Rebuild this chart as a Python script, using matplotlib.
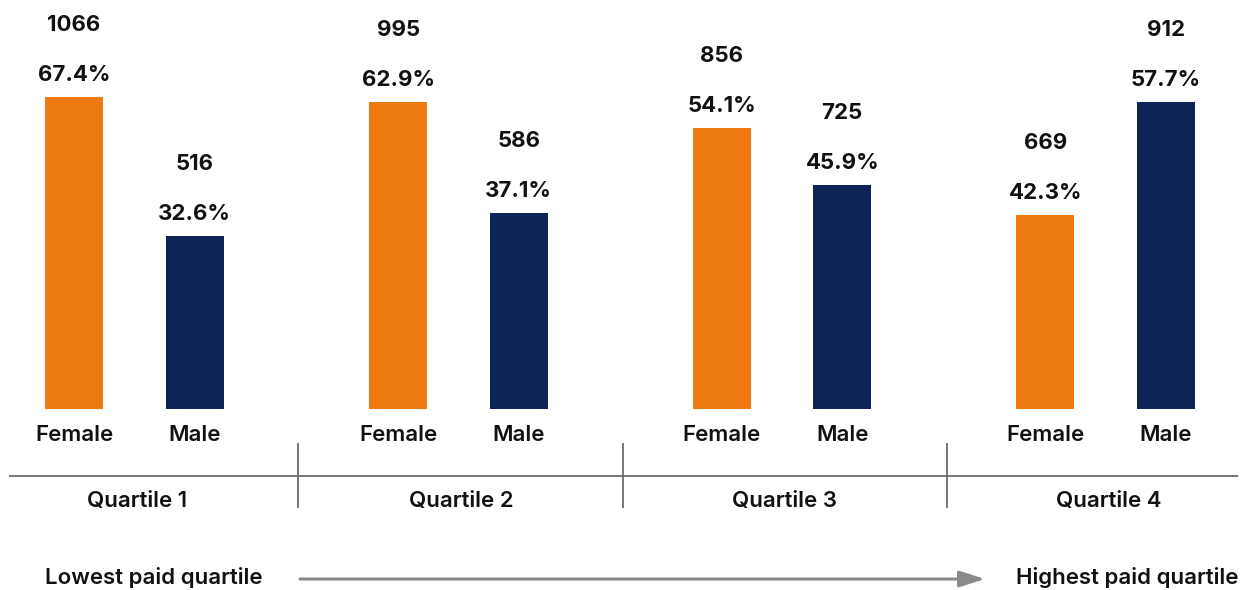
import matplotlib
matplotlib.use("Agg")
import matplotlib.pyplot as plt
from matplotlib.patches import FancyArrowPatch

plt.rcParams['font.family'] = ['Inter', 'DejaVu Sans']

# ---- data ----
quartiles = ["Quartile 1", "Quartile 2", "Quartile 3", "Quartile 4"]
genders = ["Female", "Male"]
female_pct = [67.4, 62.9, 54.1, 42.3]
male_pct = [32.6, 37.1, 45.9, 57.7]
female_cnt = [1066, 995, 856, 669]
male_cnt = [516, 586, 725, 912]
# each quartile panel in the reference has its own value range
panel_ylims = [(-10.7, 67.4), (-8.46, 64.06), (13.68, 58.57), (15.86, 58.38)]

ORANGE = "#EE7A13"
NAVY = "#0E2356"
TXT = "#111111"

W, H = 1254, 590
fig = plt.figure(figsize=(W / 100, H / 100), dpi=100)

# overlay axes in pixel coordinates for decorations
ov = fig.add_axes([0, 0, 1, 1])
ov.set_xlim(0, W)
ov.set_ylim(H, 0)
ov.axis("off")

group_centers = [134.25, 458.5, 782, 1105.5]
bar_gap_px = 120.5
panel_w = 324
base_px = 409
top_px = 97

for i in range(4):
    cx = group_centers[i]
    left = (cx - panel_w / 2) / W
    bottom = (H - base_px) / H
    height = (base_px - top_px) / H
    ax = fig.add_axes([left, bottom, panel_w / W, height])
    half = panel_w / bar_gap_px / 2
    ax.set_xlim(0.5 - half, 0.5 + half)
    lo, hi = panel_ylims[i]
    ax.set_ylim(lo, hi)
    ax.axis("off")
    ax.patch.set_alpha(0)
    vals = [female_pct[i], male_pct[i]]
    cnts = [female_cnt[i], male_cnt[i]]
    ax.bar([0, 1], [v - lo for v in vals], bottom=lo,
           width=58 / bar_gap_px, color=[ORANGE, NAVY])
    for x, v, c in zip([0, 1], vals, cnts):
        ax.annotate(f"{v:.1f}%", (x, v), xytext=(0, 16), textcoords="offset pixels",
                    ha="center", va="baseline", fontsize=16, fontweight="bold",
                    color=TXT, annotation_clip=False)
        ax.annotate(f"{c}", (x, v), xytext=(0, 66), textcoords="offset pixels",
                    ha="center", va="baseline", fontsize=16, fontweight="bold",
                    color=TXT, annotation_clip=False)
    for j, g in enumerate(genders):
        ov.text(cx + (j - 0.5) * bar_gap_px, 441, g, ha="center", va="baseline",
                fontsize=16, fontweight="semibold", color=TXT)
    ov.text(cx + 3, 507, quartiles[i], ha="center", va="baseline",
            fontsize=16, fontweight="semibold", color=TXT)

# axis line and separators
ov.plot([9, 1238], [476, 476], color="#6b6b6b", lw=1.3, solid_capstyle="butt")
for sx in [298, 623, 947]:
    ov.plot([sx, sx], [443, 508], color="#6b6b6b", lw=1.3, solid_capstyle="butt")

# bottom arrow and labels
arr = FancyArrowPatch((300, 579), (985, 579), arrowstyle="-|>,head_length=1.1,head_width=0.35",
                      mutation_scale=14, color="#8a8a8a", lw=2.2, shrinkA=0, shrinkB=0)
ov.add_patch(arr)
ov.text(45, 584, "Lowest paid quartile", ha="left", va="baseline",
        fontsize=16, fontweight="semibold", color=TXT)
ov.text(1238, 584, "Highest paid quartile", ha="right", va="baseline",
        fontsize=16, fontweight="semibold", color=TXT)

fig.savefig("out.png", dpi=100, facecolor="white")
